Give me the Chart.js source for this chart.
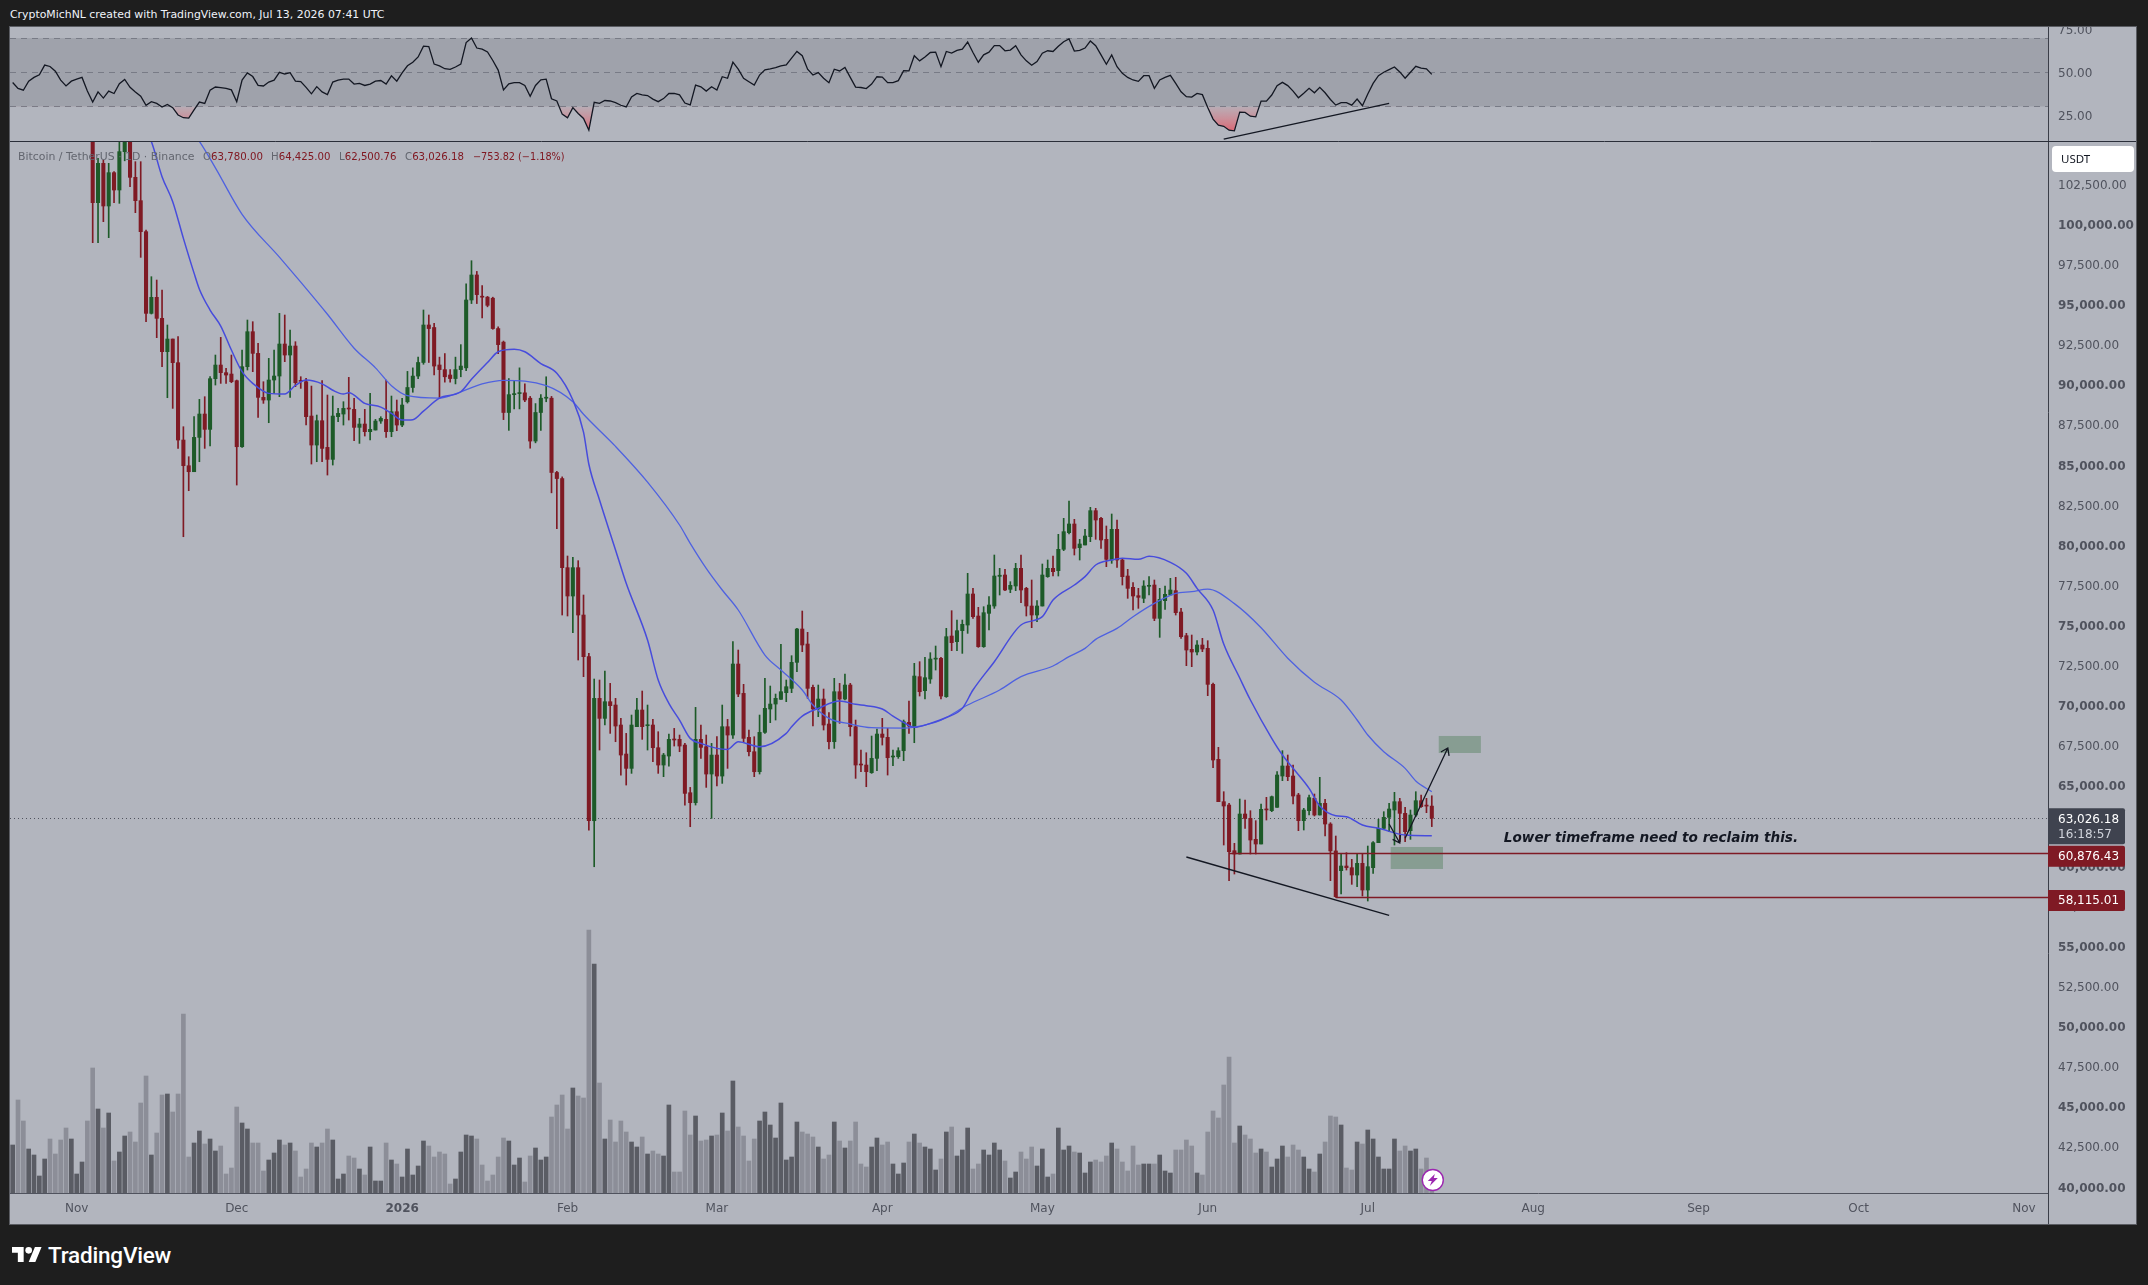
<!DOCTYPE html>
<html><head><meta charset="utf-8">
<script src="https://cdn.jsdelivr.net/npm/chart.js@4/dist/chart.umd.min.js"></script>
<style>
html,body{margin:0;padding:0;background:#1e1e1e;width:2148px;height:1285px;overflow:hidden;font-family:"DejaVu Sans",sans-serif}
.abs{position:absolute;white-space:nowrap}
#pane{position:absolute;left:10px;top:27px;width:2126px;height:1197px;background:#b2b5be}
#frame{position:absolute;left:9px;top:26px;width:2126px;height:1197px;border:1px solid #5a5c62;pointer-events:none}
canvas{position:absolute;display:block}
</style></head><body>
<div id="pane"></div>
<canvas id="rsiChart" width="2126" height="115" style="left:10px;top:27px"></canvas>
<canvas id="priceChart" width="2126" height="1082" style="left:10px;top:142px"></canvas>
<div id="frame"></div>
<div class="abs" style="left:10px;top:8px;font-size:10.9px;color:#f0f3fa">CryptoMichNL created with TradingView.com, Jul 13, 2026 07:41 UTC</div>
<div class="abs" id="sym" style="left:18px;top:150px;font-size:10.9px;color:#63666f">Bitcoin / TetherUS · 1D · Binance</div>
<div class="abs lg" style="left:203px;top:151px;font-size:10.2px;color:#63666f">O<span style="color:#801922">63,780.00</span></div>
<div class="abs lg" style="left:271px;top:151px;font-size:10.2px;color:#63666f">H<span style="color:#801922">64,425.00</span></div>
<div class="abs lg" style="left:339px;top:151px;font-size:10.2px;color:#63666f">L<span style="color:#801922">62,500.76</span></div>
<div class="abs lg" style="left:405px;top:151px;font-size:10.2px;color:#63666f">C<span style="color:#801922">63,026.18</span></div>
<div class="abs lg" style="left:473px;top:151px;font-size:9.7px;color:#801922">−753.82 (−1.18%)</div>
<svg class="abs" style="left:12px;top:1247px" width="30" height="15" viewBox="0 4 36 18"><path fill="#fff" d="M14 22H7V11H0V4h14v18zM28 22h-8l7.5-18h8L28 22z"/><circle fill="#fff" cx="20" cy="8" r="4"/></svg>
<div class="abs" style="left:48px;top:1242px;font-family:Roboto,sans-serif;font-weight:500;font-size:22.5px;letter-spacing:-.2px;color:#fff">TradingView</div>
<script>
const opens=[108600,110500,108400,107500,110000,111000,111600,114500,113900,113000,
110000,108300,109600,110000,110600,106600,101391,103843,101184,103262,
102181,104571,106500,102971,101516,99584,94492,95490,94181,92103,
92892,91417,86596,84996,84622,86762,88217,87261,90420,91271,
90794,90710,90295,86180,91167,93350,91998,89256,89090,90337,
90586,92581,91895,92456,90295,90232,88092,86284,87801,86139,
85391,88051,88217,88570,88508,87386,87594,87116,87220,87780,
87884,87116,88362,87531,88981,89871,90583,91430,93767,93610,
91274,90985,90650,90428,90985,91096,95325,96884,95548,95503,
95437,93545,92699,88313,89426,89492,89538,89204,86533,88313,
89204,89204,84574,84196,78641,76874,78641,75690,73092,62869,
70495,69248,70287,70079,68833,67025,66131,68729,69768,68790,
68833,67419,66339,66900,67939,67939,67585,64614,63991,67939,
67482,65778,66962,65653,68729,68209,72635,70806,68064,67170,
65923,68375,69830,70141,70433,70848,71118,72739,74817,73882,
71181,69830,70453,68895,67793,70910,70453,71326,68729,66381,
66339,65861,66755,68271,68064,66840,66859,67232,68998,68729,
71846,70973,71700,72940,72988,70599,74381,74027,74713,75066,
77000,75627,73716,75794,76251,78100,78184,77290,77498,78599,
77352,76251,75690,76251,78080,78599,78454,79784,80823,81363,
79888,80054,80573,82194,81716,80407,79119,81031,79119,78121,
77415,76895,76729,77480,77560,75482,76583,76937,77207,75877,
74402,73550,73384,73820,73612,71368,66694,64055,63847,61000,
60793,63286,63016,61707,61416,63577,63494,63702,65655,66279,
65655,64471,62871,63494,64263,63224,63951,62663,60986,59754,
60045,59941,59484,60211,58548,59941,61499,62393,63079,63536,
64055,63328,62247,63224,64117,63790,63780];
const highs=[111700,113900,109100,111200,112000,111900,116400,116000,116000,113600,
111500,111200,111200,111000,110700,107400,104155,104050,103843,103324,
105500,108000,107500,103947,103947,99687,96778,96570,95947,93765,
92892,93038,87427,85557,88051,89131,89298,90544,91895,92996,
91064,91895,90336,92207,94077,93973,92622,90232,91687,92207,
94492,94389,93453,92726,90544,90440,89962,88155,90295,89402,
89339,88570,88986,90503,89194,87947,88508,89505,87884,88051,
90336,89339,89090,89194,90874,91096,91764,94702,94390,93878,
91764,91987,90985,91764,92543,96327,97774,97106,96216,95548,
95500,93656,92766,90428,90250,91096,90094,89315,88869,89426,
90539,89315,84641,84300,79368,79285,79077,76937,73300,71700,
71638,72199,71430,70495,69248,68313,69456,70495,70952,70079,
69186,68417,67066,68271,68624,68209,67689,64946,69934,68832,
68209,67689,68105,70079,69186,74027,73508,71368,68521,68105,
69456,71742,71264,70765,73861,71638,73155,74859,75939,74609,
71326,71326,71077,69601,71742,71430,72012,71430,69144,67274,
67107,68147,68583,69248,68624,67274,67419,69144,70329,72677,
72781,73051,73342,73757,73051,74859,75960,75378,75378,78287,
77352,76168,76209,76833,79430,78599,78537,77768,78911,79430,
77415,77872,76584,78869,79119,79368,80719,81716,82797,81654,
80407,81031,82402,82340,81779,81238,81986,81612,79223,78537,
77706,77352,77830,78080,77872,77352,77498,77976,78038,76106,
74548,74443,74090,74235,74090,71450,67442,64678,63951,61458,
64221,64159,63494,62871,63910,64325,64408,65925,67235,66964,
66341,64574,63640,64471,64533,65572,64200,62746,61915,60793,
60876,60460,60793,60793,61291,61562,62954,63432,63951,64637,
64263,63702,63536,64678,64471,64263,64425];
const lows=[107500,107400,106700,107400,108800,110300,111400,113000,111000,109200,
106300,106700,109000,109500,105800,98898,98898,100207,99209,101391,
101350,104000,102389,100768,97983,93973,94451,92975,91168,89235,
88570,86076,80570,83438,84622,85245,86076,86222,90025,90128,
90128,90170,83791,86139,90960,90856,88009,88882,87676,89505,
89298,91479,89256,89921,89817,87531,85100,85245,85245,84414,
85038,87739,87531,87843,86555,86388,86845,86596,87220,87635,
86762,86803,87178,87427,88900,89575,90428,91318,91430,90650,
89204,90205,90205,90094,90539,90918,95103,95103,94212,94900,
93500,91987,87868,87200,88536,88536,88982,86087,86421,87200,
88982,83305,81079,75690,75628,74589,72885,71846,62287,60000,
67274,68833,68313,67793,65715,65092,65820,68729,67939,67274,
66547,65820,65612,66276,67523,67170,63845,62495,63845,66754,
64946,63014,65030,65196,66131,68001,70599,67731,66900,65612,
65778,68313,68978,69145,70433,70287,70848,72158,73404,70495,
68770,69352,68521,67336,67378,68937,70391,68147,65508,65923,
64988,65820,65986,67585,65715,66297,66755,66609,68313,67731,
70640,70453,71430,72261,70453,70557,73466,73466,73300,74547,
75482,73674,73674,74755,76105,76937,77207,77082,77207,76459,
75628,74900,75275,76251,78038,78121,78121,79701,80740,79430,
79119,80054,80262,80407,79846,78703,78911,78661,77560,76729,
76002,76106,76459,76937,75337,74298,76043,76937,75690,74235,
72531,72469,73197,73404,70661,66175,64055,61354,59130,59546,
60793,62393,60793,60793,61416,62912,63432,63702,65364,65364,
63910,62247,62289,63224,63162,63224,61915,59130,58091,58299,
59795,58902,58756,58175,57863,59587,61499,62330,62185,61354,
61562,61562,61707,63120,63702,63369,62500.76];
const closes=[110500,108400,107500,110000,111000,111600,114500,113900,113000,110000,
108300,109600,110000,110600,106600,101391,103843,101184,103262,102181,
104571,106500,102971,101516,99584,94492,95490,94181,92103,92892,
91417,86596,84996,84622,86762,88217,87261,90420,91271,90794,
90648,90232,86180,91167,93350,91998,89256,89090,90337,90586,
92581,91895,92456,90170,90250,88051,86284,87801,86076,85391,
88092,88258,88570,88530,87386,87594,87116,87261,87780,87947,
87116,88362,87531,88778,89871,90583,91430,93767,93545,91207,
90985,90539,90428,90985,91207,95325,96884,95660,95500,94992,
93545,92543,88313,89426,89470,89538,89093,86533,88313,89204,
89248,84574,84196,78641,76874,78641,75690,73092,62869,70495,
69248,70287,70038,68770,66962,66131,68833,69768,68729,68810,
67419,66339,66962,67939,67900,67523,64572,63991,67939,67440,
65778,66962,65653,68729,68209,72635,70765,68001,67170,65923,
68375,69872,70141,70495,70910,71222,72739,74817,73820,71118,
69830,70453,68833,67793,70910,70453,71326,68729,66339,66340,
65923,66755,68271,68064,66796,66860,67232,69040,68770,71887,
70910,71783,72947,72950,70640,74339,73965,74713,75108,77000,
75586,73716,75835,76313,78121,78170,77249,77540,78599,77249,
76251,75690,76251,78184,78599,78391,79784,80885,81363,79846,
80116,80615,82194,81612,80365,79160,81031,79119,78080,77352,
76875,76792,77498,77510,75482,76666,76979,77249,75835,74339,
73508,73384,73820,73571,71368,66653,64055,63785,60938,60793,
63286,63016,61665,61416,63577,63540,64367,65717,66279,65614,
64408,62871,63536,64305,63224,63951,62663,60986,58133,60045,
59941,59484,60211,58548,60003,61499,62393,63079,63598,64055,
63328,62185,63224,64117,63743,63780,63026.18];
const volumes=[48,93,72,44,38,17,34,54,39,53,65,54,19,31,72,125,84,65,80,32,
41,57,61,51,90,117,38,60,98,99,81,99,179,36,50,62,49,54,42,47,
19,25,86,70,64,50,50,22,33,40,53,48,50,42,16,24,50,46,50,64,
53,14,19,37,35,24,18,46,12,12,50,33,29,16,44,18,27,52,47,36,
41,39,9,14,41,58,57,54,28,12,18,36,55,52,28,35,11,37,45,33,
36,76,88,98,64,105,97,95,263,229,110,54,73,51,72,61,51,46,56,39,
42,39,37,88,21,21,82,58,77,52,53,57,58,80,62,112,66,57,32,54,
72,81,68,55,90,33,36,71,61,59,56,46,34,38,71,52,45,52,71,29,
26,46,55,48,51,29,19,30,51,59,50,46,44,23,34,61,66,37,43,65,
24,29,43,38,50,43,32,15,21,41,34,46,27,44,16,19,65,43,47,41,
40,20,31,33,31,37,50,44,31,22,47,28,29,29,29,38,22,20,43,43,
53,47,20,18,61,82,75,108,136,50,67,58,54,40,44,41,26,34,47,36,
48,43,36,24,21,39,51,77,76,68,25,23,51,49,63,54,36,24,24,54,
42,47,42,44,24,35,14];
const rsiValues=[44,40.6,39.5,44.8,47,48.5,54.2,53.4,50.6,45.4,42,44.8,46,47,39,32.6,38.5,34.9,39,37.6,
43.3,45.8,41.2,38.5,36,30.7,32.8,31.8,29.7,31.2,29.3,25,23.4,23.2,28,32.6,31.8,39.5,41.4,41,
40.6,39.7,32.8,45.4,49.6,47.5,42.3,42,44.3,45.4,50,49,49.8,44.8,44.6,41.2,37.4,41.6,38.5,37,
44.3,45.4,46,46,43.1,43.5,42.3,43.1,44.8,45.2,43.1,47.9,44.8,49.6,53.8,55.9,59,65.3,65.1,54.8,
53.8,52.1,51.7,53.1,54.8,67.4,70.1,64.2,63.6,61.9,56.9,51.3,39.7,43.3,43.9,43.9,42.3,36,42.3,45.6,
46,34.5,33.2,25.5,23.4,29.3,25.9,23,16.1,32.4,31.8,33.5,33.2,32.2,30.7,29.7,35.6,37.6,36.8,36.4,
34.3,32.8,34.6,37.6,37.6,36.8,32,30.9,42.5,41.5,39,41.5,39.6,47.4,46.5,55.9,51.8,46.5,44.5,42.5,
48.4,51.4,52,52.8,53.7,54.3,58.3,62.2,59.7,51.8,48.4,49.8,46.5,43.9,51.8,50.8,52.8,47,41.3,41.1,
40.5,43.1,47.4,47.2,43.9,43.9,45.1,51,50.8,59.7,56.7,58.9,61.6,61.8,53.3,62.2,61.2,62.8,63.6,67.7,
61.6,55.9,60.2,61.8,65.6,65.6,62.6,63,65.6,60.2,56.7,54.1,56.3,61.2,62.6,62.2,65.2,67.9,69.5,62.4,
62.8,64.2,68.3,65.6,60.2,54.7,60.2,53.3,49.4,47,45.5,44.7,48,48,40.6,45.5,47,48.2,43.5,38.6,
35.7,35.5,37.6,36.9,29.4,22.6,19,18.4,16.1,15.7,26.7,26.5,24.3,23.9,33.1,33.1,36.7,42.2,44.1,42.2,
39,35.1,37.7,40.6,38,41.2,38,34.1,30.8,32.2,32.2,30.8,34.3,30.4,37.3,43.5,48,50,51.6,53.1,
50.2,46.5,50,53.5,52.4,52,48.8];
// moving averages at the bends: [bar number, price]
const maFast=[[22,107500],[26,105194],[28,103012],[30,101454],[32,99168],[34,97000],[35,96000],[37,94700],[39,93700],[41,92206],[43,90856],[45,90129],[48,89505],[51,89463],[53,90000],[55,90336],[58,90100],[60,89700],[62,89463],[63,89546],[66,88882],[69,88650],[71,88258],[73,87843],[75,87868],[77,88400],[80,89204],[84,89605],[86,90383],[89,91430],[91,92097],[94,92253],[96,92097],[99,91363],[102,90762],[105,89093],[107,87089],[108,85086],[110,82859],[113,79742],[115,77664],[119,74131],[121,71638],[123,70183],[125,69144],[127,68001],[129,67689],[132,67378],[134,67315],[136,67793],[140,67481],[145,68313],[146,68729],[148,69394],[151,69871],[155,70328],[158,70121],[160,70038],[163,69830],[165,69394],[167,69000],[169,68687],[172,68937],[175,69300],[178,69871],[180,71014],[184,72781],[189,75067],[193,75586],[195,76625],[199,77560],[201,78080],[203,78807],[206,79119],[208,79223],[211,79160],[213,79347],[217,78973],[220,78288],[222,77352],[225,76000],[227,73880],[230,71764],[232,70393],[236,68003],[238,66964],[240,66133],[243,64886],[245,63785],[248,63182],[250,63120],[253,62600],[256,62393],[261,61977],[266,61935]];
const maSlow=[[30,107300],[35,105209],[38,103562],[43,100668],[50,97997],[54,96439],[59,94435],[64,92321],[68,91096],[71,89983],[74,89360],[80,89204],[84,89605],[88,90094],[92,90317],[100,89983],[105,88980],[107,88202],[113,86199],[119,83973],[125,81300],[127,80158],[130,78599],[133,77248],[136,76002],[141,73196],[144,72261],[148,71014],[150,70079],[153,69248],[157,68895],[161,68666],[167,68645],[169,68708],[174,69144],[179,70079],[185,71014],[189,71846],[195,72510],[198,73093],[201,73612],[203,74173],[207,74859],[210,75586],[214,76418],[218,77041],[221,77145],[224,77300],[229,76400],[234,74900],[239,73000],[244,71500],[249,70393],[252,69146],[254,68211],[257,67172],[261,66133],[263,65343],[266,64678]];
const priceTicks=[40000,42500,45000,47500,50000,52500,55000,57500,60000,62500,65000,67500,70000,72500,75000,77500,80000,82500,85000,87500,90000,92500,95000,97500,100000,102500];
const rsiTicks=[25,50,75];
const monthNames=['Nov','Dec','2026','Feb','Mar','Apr','May','Jun','Jul','Aug','Sep','Oct','Nov'];
const monthStarts=['2025-11-01','2025-12-01','2026-01-01','2026-02-01','2026-03-01','2026-04-01','2026-05-01','2026-06-01','2026-07-01','2026-08-01','2026-09-01','2026-10-01','2026-11-01'];
const lastPrice=63026.18, countdown='16:18:57';
const levels=[{price:60876.43,fromBar:228},{price:58115.01,fromBar:248}];
const priceTrend=[[220,60607],[258,56973]];
const rsiTrend=[[227,10.9],[258,31.8]];
const arrows=[[[258,62664],[260,61480]],[[261,61780],[269,67400]]];
const zones=[[258.3,268.1,61231,59860],[267.3,275.2,68150,67090]];
const note={text:'Lower timeframe need to reclaim this.',bar:279.5,price:61780};

const dates=[];
for(let d=new Date(Date.UTC(2025,9,20));dates.length<382;d=new Date(d.getTime()+864e5))dates.push(d.toISOString().slice(0,10));

const FONT='"DejaVu Sans",sans-serif', AX='#50535e', BULL='#1d5a28', BEAR='#7f1a24', INK='#131722';
const up=opens.map((o,i)=>closes[i]>=o);
const fmt=v=>v.toLocaleString('en-US',{minimumFractionDigits:2,maximumFractionDigits:2});
const pts=a=>a.map(p=>({x:dates[p[0]],y:p[1]}));
const noPad=a=>{a.paddingTop=a.paddingBottom=a.paddingLeft=a.paddingRight=0;};
const yWidth=a=>{a.width=88;noPad(a);};

const rsiBack={id:'rsiBack',beforeDatasetsDraw(c){
  const {ctx,chartArea:A,scales:{y}}=c;ctx.save();
  const t=y.getPixelForValue(70),b=y.getPixelForValue(30);
  ctx.fillStyle='#9fa2ab';ctx.fillRect(A.left,t,A.width,b-t);
  ctx.strokeStyle='#787b86';ctx.lineWidth=1;ctx.setLineDash([6,5]);
  [70,50,30].forEach(v=>{const p=Math.round(y.getPixelForValue(v))+.5;ctx.beginPath();ctx.moveTo(A.left,p);ctx.lineTo(A.right,p);ctx.stroke();});
  ctx.restore();
},afterDatasetsDraw(c){
  const {ctx,chartArea:A,scales:{x,y}}=c;ctx.save();
  ctx.beginPath();ctx.rect(A.left,A.top,A.width,A.height);ctx.clip();
  ctx.strokeStyle=INK;ctx.lineWidth=1.3;ctx.beginPath();
  ctx.moveTo(x.getPixelForValue(rsiTrend[0][0]),y.getPixelForValue(rsiTrend[0][1]));
  ctx.lineTo(x.getPixelForValue(rsiTrend[1][0]),y.getPixelForValue(rsiTrend[1][1]));ctx.stroke();
  ctx.restore();
},afterDraw(c){
  const {ctx,chartArea:A}=c;ctx.save();
  ctx.strokeStyle='#3b3e48';ctx.lineWidth=1;
  ctx.beginPath();ctx.moveTo(A.right+.5,0);ctx.lineTo(A.right+.5,c.height);ctx.stroke();
  ctx.strokeStyle='#2a2e39';ctx.beginPath();ctx.moveTo(0,c.height-.5);ctx.lineTo(c.width,c.height-.5);ctx.stroke();
  ctx.restore();
}};

new Chart(document.getElementById('rsiChart'),{
  type:'line',
  data:{labels:dates,datasets:[{label:'RSI',data:rsiValues,borderColor:INK,borderWidth:1.3,pointRadius:0,tension:0,
    fill:{target:{value:30},above:'rgba(0,0,0,0)',below:'rgba(230,90,100,.45)'}}]},
  options:{responsive:false,animation:false,events:[],
    layout:{padding:0},
    plugins:{legend:{display:false},tooltip:{enabled:false},title:{display:false}},
    scales:{
      x:{type:'category',display:false,offset:true},
      y:{position:'right',min:9.19,max:76.52,afterFit:yWidth,
        afterBuildTicks:a=>{a.ticks=rsiTicks.map(v=>({value:v}));},
        border:{display:false},grid:{display:false,drawTicks:false},
        ticks:{color:AX,padding:10,labelOffset:1.4,font:{family:FONT,size:12},callback:v=>v.toFixed(2)}}
    }},
  plugins:[rsiBack,{id:'grad',beforeDatasetsDraw(c){
    const y=c.scales.y,g=c.ctx.createLinearGradient(0,y.getPixelForValue(30),0,y.getPixelForValue(15));
    g.addColorStop(0,'rgba(235,110,120,.12)');g.addColorStop(1,'rgba(235,70,85,.75)');
    c.data.datasets[0].fill.below=g;
    const m=c.getDatasetMeta(0);if(m&&m.dataset)m.dataset.options.fill=c.data.datasets[0].fill;
  }}]
});

const priceDraw={id:'priceDraw',
 beforeDatasetsDraw(c){
  const {ctx,chartArea:A,scales:{y}}=c;ctx.save();
  ctx.strokeStyle='#50535e';ctx.lineWidth=1;ctx.setLineDash([1,3]);
  const p=Math.round(y.getPixelForValue(lastPrice))+.5;
  ctx.beginPath();ctx.moveTo(A.left,p);ctx.lineTo(A.right,p);ctx.stroke();
  ctx.restore();
 },
 afterDatasetsDraw(c){
  const {ctx,chartArea:A,scales:{x,y}}=c;ctx.save();
  ctx.beginPath();ctx.rect(A.left,A.top,A.width,A.height);ctx.clip();
  // zones
  ctx.fillStyle='rgba(76,125,85,.42)';
  zones.forEach(z=>{const a=x.getPixelForValue(z[0]),b=x.getPixelForValue(z[1]),t=y.getPixelForValue(z[2]),u=y.getPixelForValue(z[3]);ctx.fillRect(a,t,b-a,u-t);});
  // levels
  ctx.strokeStyle=BEAR;ctx.lineWidth=1.3;
  levels.forEach(l=>{const p=Math.round(y.getPixelForValue(l.price))+.5;ctx.beginPath();ctx.moveTo(x.getPixelForValue(l.fromBar),p);ctx.lineTo(A.right,p);ctx.stroke();});
  // trend
  ctx.strokeStyle=INK;ctx.lineWidth=1.4;ctx.beginPath();
  ctx.moveTo(x.getPixelForValue(priceTrend[0][0]),y.getPixelForValue(priceTrend[0][1]));
  ctx.lineTo(x.getPixelForValue(priceTrend[1][0]),y.getPixelForValue(priceTrend[1][1]));ctx.stroke();
  // arrows
  ctx.lineWidth=1.3;
  arrows.forEach(a=>{
    const x0=x.getPixelForValue(a[0][0]),y0=y.getPixelForValue(a[0][1]),x1=x.getPixelForValue(a[1][0]),y1=y.getPixelForValue(a[1][1]);
    const t=Math.atan2(y1-y0,x1-x0),h=8;
    ctx.beginPath();ctx.moveTo(x0,y0);ctx.lineTo(x1,y1);
    ctx.moveTo(x1-h*Math.cos(t-.6),y1-h*Math.sin(t-.6));ctx.lineTo(x1,y1);ctx.lineTo(x1-h*Math.cos(t+.6),y1-h*Math.sin(t+.6));ctx.stroke();
  });
  // note
  ctx.fillStyle=INK;ctx.font='italic bold 13.6px '+FONT;ctx.textBaseline='middle';ctx.textAlign='left';
  ctx.fillText(note.text,x.getPixelForValue(note.bar),y.getPixelForValue(note.price));
  // lightning badge
  const bx=x.getPixelForValue(266)+1,by=A.bottom-13;
  ctx.beginPath();ctx.arc(bx,by,10.5,0,Math.PI*2);ctx.fillStyle='#fff';ctx.fill();ctx.strokeStyle='#9c27b0';ctx.lineWidth=1.4;ctx.stroke();
  ctx.fillStyle='#9c27b0';ctx.beginPath();ctx.moveTo(bx+2,by-6);ctx.lineTo(bx-5,by+1);ctx.lineTo(bx-1,by+1);ctx.lineTo(bx-3,by+6);ctx.lineTo(bx+5,by-2);ctx.lineTo(bx+1,by-2);ctx.closePath();ctx.fill();
  ctx.restore();
 },
 afterDraw(c){
  const {ctx,chartArea:A,scales:{y}}=c;ctx.save();
  // frame lines
  ctx.strokeStyle='#3b3e48';ctx.lineWidth=1;
  ctx.beginPath();ctx.moveTo(A.right+.5,0);ctx.lineTo(A.right+.5,c.height);ctx.stroke();
  ctx.strokeStyle='#50535e';ctx.beginPath();ctx.moveTo(0,A.bottom+.5);ctx.lineTo(A.right,A.bottom+.5);ctx.stroke();
  ctx.textBaseline='middle';ctx.textAlign='left';ctx.font='12px '+FONT;
  const bw=77;
  // USDT chip
  ctx.fillStyle='#fff';ctx.beginPath();ctx.roundRect(A.right+4,4,82,26,4);ctx.fill();
  ctx.fillStyle=INK;ctx.font='11.5px "Noto Sans",sans-serif';ctx.fillText('USDT',A.right+13,18);ctx.font='12px '+FONT;
  // last price tag
  const ly=y.getPixelForValue(lastPrice);
  ctx.fillStyle='#3f434f';ctx.beginPath();ctx.roundRect(A.right,ly-10,bw,36,[0,2,2,0]);ctx.fill();
  ctx.fillStyle='#fff';ctx.fillText(fmt(lastPrice),A.right+10,ly+1.5);
  ctx.fillStyle='#d1d4dc';ctx.fillText(countdown,A.right+10,ly+17);
  // level tags
  levels.forEach(l=>{const p=y.getPixelForValue(l.price);
    ctx.fillStyle=BEAR;ctx.beginPath();ctx.roundRect(A.right,p-7,bw,21,[0,2,2,0]);ctx.fill();
    ctx.fillStyle='#fff';ctx.fillText(fmt(l.price),A.right+10,p+4);});
  ctx.restore();
 }};

new Chart(document.getElementById('priceChart'),{
  type:'bar',
  data:{labels:dates,datasets:[
    {type:'line',label:'MA fast',data:pts(maFast),borderColor:'#474cdc',borderWidth:1.5,pointRadius:0,cubicInterpolationMode:'monotone',yAxisID:'y',order:1},
    {type:'line',label:'MA slow',data:pts(maSlow),borderColor:'#4f62e0',borderWidth:1.3,pointRadius:0,cubicInterpolationMode:'monotone',yAxisID:'y',order:1},
    {label:'Body',data:opens.map((o,i)=>[o,closes[i]]),backgroundColor:up.map(u=>u?BULL:BEAR),barThickness:3.4,grouped:false,minBarLength:1,yAxisID:'y',order:2},
    {label:'Wick',data:lows.map((l,i)=>[l,highs[i]]),backgroundColor:up.map(u=>u?BULL:BEAR),barThickness:1,grouped:false,yAxisID:'y',order:3},
    {label:'Volume',data:volumes,backgroundColor:up.map(u=>u?'#5a5c64':'#8c8e98'),barThickness:4,grouped:false,yAxisID:'vol',order:5}
  ]},
  options:{responsive:false,animation:false,events:[],
    layout:{padding:0},
    plugins:{legend:{display:false},tooltip:{enabled:false},title:{display:false}},
    scales:{
      x:{type:'category',offset:true,position:'bottom',
        afterBuildTicks:a=>{a.ticks=monthStarts.map(s=>({value:dates.indexOf(s)}));},
        afterFit:a=>{a.height=31;noPad(a);},
        border:{display:false},grid:{display:false,drawTicks:false},
        ticks:{autoSkip:false,maxRotation:0,padding:9,color:AX,
          font:ctx=>({family:FONT,size:12,weight:(ctx.tick&&dates[ctx.tick.value]==='2026-01-01')?'bold':'normal'}),
          callback:function(v){return monthNames[monthStarts.indexOf(dates[v])];}}},
      y:{position:'right',min:39664,max:105173,afterFit:yWidth,
        afterBuildTicks:a=>{a.ticks=priceTicks.map(v=>({value:v}));},
        border:{display:false},grid:{display:false,drawTicks:false},
        ticks:{color:AX,padding:10,labelOffset:.8,
          font:ctx=>({family:FONT,size:12,weight:(ctx.tick&&ctx.tick.value%5000===0)?'bold':'normal'}),
          callback:v=>fmt(v)}},
      vol:{display:false,min:0,max:1051}
    }},
  plugins:[priceDraw]
});
</script>
</body></html>
